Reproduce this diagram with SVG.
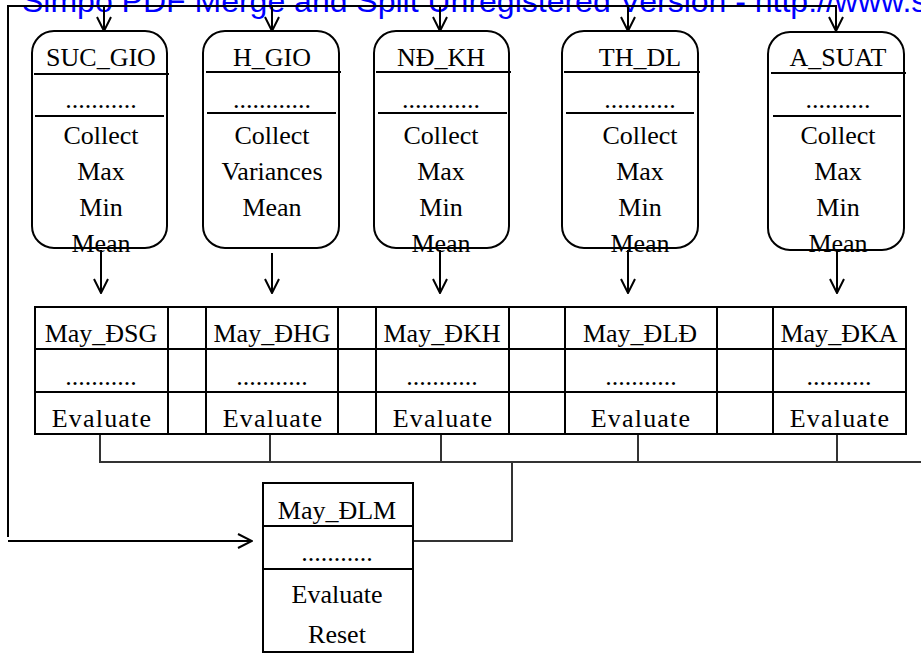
<svg xmlns="http://www.w3.org/2000/svg" width="921" height="653" viewBox="0 0 921 653">
<style>
  .t{font-family:"Liberation Serif","Times New Roman",serif;font-size:26px;fill:#000;text-anchor:middle}
  .ev{letter-spacing:1.2px}
  .b{fill:#fff;stroke:#000;stroke-width:2}
  .ln{stroke:#000;stroke-width:2;fill:none}
  .bus{stroke:#333;stroke-width:2;fill:none}
  .wm{font-family:"Liberation Sans",Arial,sans-serif;font-size:32px;fill:#0000ff}
</style>
<defs>
  <marker id="ah" viewBox="0 0 16 16" refX="15" refY="8" markerWidth="16" markerHeight="16" orient="auto" markerUnits="userSpaceOnUse">
    <path d="M1,1 L15,8 L1,15" fill="none" stroke="#000" stroke-width="2"/>
  </marker>
</defs>
<rect width="921" height="653" fill="#fff"/>
<text class="wm" x="22" y="12">Simpo PDF Merge and Split Unregistered Version - http://www.s</text>

<g id="connectors">
  <path class="ln" d="M8,537 V6 H837"/>
  <line class="ln" x1="104" y1="6" x2="104" y2="31" marker-end="url(#ah)"/>
  <line class="ln" x1="272" y1="6" x2="272" y2="31" marker-end="url(#ah)"/>
  <line class="ln" x1="440" y1="6" x2="440" y2="31" marker-end="url(#ah)"/>
  <line class="ln" x1="628" y1="6" x2="628" y2="31" marker-end="url(#ah)"/>
  <line class="ln" x1="836" y1="6" x2="836" y2="31" marker-end="url(#ah)"/>
  <line class="ln" x1="8" y1="541" x2="252" y2="541" marker-end="url(#ah)"/>
  <line class="ln" x1="101" y1="250" x2="101" y2="293" marker-end="url(#ah)"/>
  <line class="ln" x1="272" y1="253" x2="272" y2="293" marker-end="url(#ah)"/>
  <line class="ln" x1="440" y1="250" x2="440" y2="293" marker-end="url(#ah)"/>
  <line class="ln" x1="628" y1="250" x2="628" y2="293" marker-end="url(#ah)"/>
  <line class="ln" x1="837" y1="250" x2="837" y2="293" marker-end="url(#ah)"/>
  <path class="bus" d="M100,430 V462 H921"/>
  <line class="bus" x1="270" y1="430" x2="270" y2="462"/>
  <line class="bus" x1="441" y1="430" x2="441" y2="462"/>
  <line class="bus" x1="638" y1="430" x2="638" y2="462"/>
  <line class="bus" x1="837" y1="430" x2="837" y2="462"/>
  <path class="bus" d="M512,462 V541 H412"/>
</g>

<g id="SUC_GIO">
  <rect class="b" x="32" y="31" width="135" height="217" rx="22"/>
  <line class="ln" x1="34" y1="74" x2="169" y2="74"/>
  <line class="ln" x1="35" y1="116" x2="164" y2="116"/>
  <text class="t" x="101" y="66">SUC_GIO</text>
  <text class="t" x="101" y="108">...........</text>
  <text class="t" x="101" y="144">Collect</text>
  <text class="t" x="101" y="180">Max</text>
  <text class="t" x="101" y="216">Min</text>
  <text class="t" x="101" y="252">Mean</text>
</g>
<g id="H_GIO">
  <rect class="b" x="203" y="31" width="136" height="217" rx="22"/>
  <line class="ln" x1="206" y1="72" x2="341" y2="72"/>
  <line class="ln" x1="207" y1="113" x2="336" y2="113"/>
  <text class="t" x="272" y="66">H_GIO</text>
  <text class="t" x="272" y="108">............</text>
  <text class="t" x="272" y="144">Collect</text>
  <text class="t" x="272" y="180">Variances</text>
  <text class="t" x="272" y="216">Mean</text>
</g>
<g id="ND_KH">
  <rect class="b" x="374" y="31" width="135" height="217" rx="22"/>
  <line class="ln" x1="376" y1="72" x2="511" y2="72"/>
  <line class="ln" x1="378" y1="113" x2="507" y2="113"/>
  <text class="t" x="441" y="66">NĐ_KH</text>
  <text class="t" x="441" y="108">............</text>
  <text class="t" x="441" y="144">Collect</text>
  <text class="t" x="441" y="180">Max</text>
  <text class="t" x="441" y="216">Min</text>
  <text class="t" x="441" y="252">Mean</text>
</g>
<g id="TH_DL">
  <rect class="b" x="562" y="31" width="136" height="217" rx="22"/>
  <line class="ln" x1="564" y1="72" x2="700" y2="72"/>
  <line class="ln" x1="566" y1="113" x2="694" y2="113"/>
  <text class="t" x="640" y="66">TH_DL</text>
  <text class="t" x="640" y="108">...........</text>
  <text class="t" x="640" y="144">Collect</text>
  <text class="t" x="640" y="180">Max</text>
  <text class="t" x="640" y="216">Min</text>
  <text class="t" x="640" y="252">Mean</text>
</g>
<g id="A_SUAT">
  <rect class="b" x="768" y="32" width="136" height="218" rx="22"/>
  <line class="ln" x1="771" y1="73" x2="906" y2="73"/>
  <line class="ln" x1="773" y1="116" x2="901" y2="116"/>
  <text class="t" x="838" y="66">A_SUAT</text>
  <text class="t" x="838" y="108">..........</text>
  <text class="t" x="838" y="144">Collect</text>
  <text class="t" x="838" y="180">Max</text>
  <text class="t" x="838" y="216">Min</text>
  <text class="t" x="838" y="252">Mean</text>
</g>

<g id="May_table">
  <rect class="b" x="35" y="307" width="871" height="127"/>
  <line class="ln" x1="35" y1="349" x2="906" y2="349"/>
  <line class="ln" x1="35" y1="392" x2="906" y2="392"/>
  <line class="ln" x1="168" y1="307" x2="168" y2="434"/>
  <line class="ln" x1="206" y1="307" x2="206" y2="434"/>
  <line class="ln" x1="338" y1="307" x2="338" y2="434"/>
  <line class="ln" x1="376" y1="307" x2="376" y2="434"/>
  <line class="ln" x1="509" y1="307" x2="509" y2="434"/>
  <line class="ln" x1="565" y1="307" x2="565" y2="434"/>
  <line class="ln" x1="717" y1="307" x2="717" y2="434"/>
  <line class="ln" x1="773" y1="307" x2="773" y2="434"/>
</g>
<g id="May_DSG">
  <text class="t" x="101" y="342">May_ĐSG</text>
  <text class="t" x="101" y="385">...........</text>
  <text class="t ev" x="102" y="427">Evaluate</text>
</g>
<g id="May_DHG">
  <text class="t" x="272" y="342">May_ĐHG</text>
  <text class="t" x="272" y="385">...........</text>
  <text class="t ev" x="273" y="427">Evaluate</text>
</g>
<g id="May_DKH">
  <text class="t" x="442" y="342">May_ĐKH</text>
  <text class="t" x="442" y="385">...........</text>
  <text class="t ev" x="443" y="427">Evaluate</text>
</g>
<g id="May_DLD">
  <text class="t" x="640" y="342">May_ĐLĐ</text>
  <text class="t" x="641" y="385">...........</text>
  <text class="t ev" x="641" y="427">Evaluate</text>
</g>
<g id="May_DKA">
  <text class="t" x="839" y="342">May_ĐKA</text>
  <text class="t" x="839" y="385">..........</text>
  <text class="t ev" x="840" y="427">Evaluate</text>
</g>

<g id="May_DLM">
  <rect class="b" x="263" y="483" width="150" height="169"/>
  <line class="ln" x1="263" y1="526" x2="413" y2="526"/>
  <line class="ln" x1="263" y1="569" x2="413" y2="569"/>
  <text class="t" x="337" y="519">May_ĐLM</text>
  <text class="t" x="337" y="561">...........</text>
  <text class="t" x="337" y="603">Evaluate</text>
  <text class="t" x="337" y="643">Reset</text>
</g>
</svg>
